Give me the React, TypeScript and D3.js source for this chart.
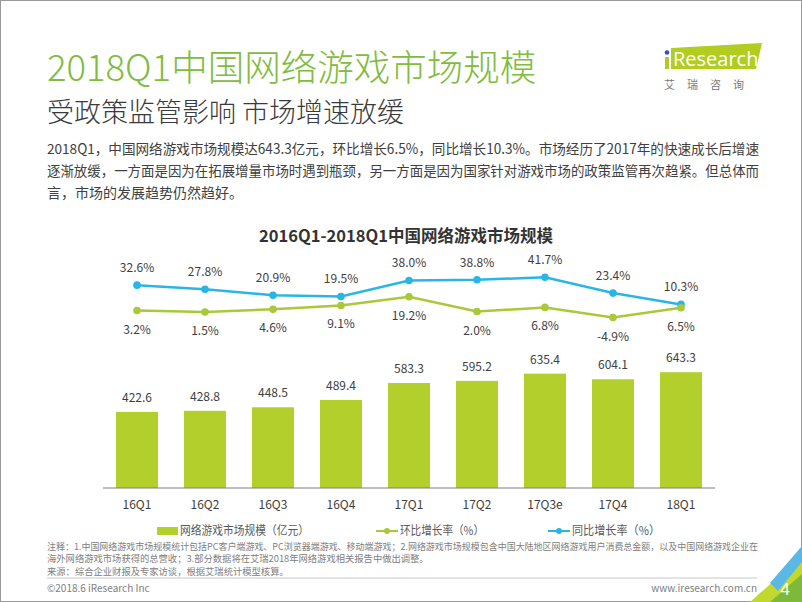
import React from 'react';
import * as d3 from 'd3';

const categories = ['16Q1', '16Q2', '16Q3', '16Q4', '17Q1', '17Q2', '17Q3e', '17Q4', '18Q1'];
const marketSize = [422.6, 428.8, 448.5, 489.4, 583.3, 595.2, 635.4, 604.1, 643.3];
const qoqGrowth = [3.2, 1.5, 4.6, 9.1, 19.2, 2.0, 6.8, -4.9, 6.5];
const yoyGrowth = [32.6, 27.8, 20.9, 19.5, 38.0, 38.8, 41.7, 23.4, 10.3];
const legendLabels = ['网络游戏市场规模（亿元）', '环比增长率（%）', '同比增长率（%）'];

const pageTitle = '2018Q1中国网络游戏市场规模';
const pageSubtitle = '受政策监管影响 市场增速放缓';
const paragraph = [
  '2018Q1，中国网络游戏市场规模达643.3亿元，环比增长6.5%，同比增长10.3%。市场经历了2017年的快速成长后增速',
  '逐渐放缓，一方面是因为在拓展增量市场时遇到瓶颈，另一方面是因为国家针对游戏市场的政策监管再次趋紧。但总体而',
  '言，市场的发展趋势仍然趋好。',
];
const chartTitle = '2016Q1-2018Q1中国网络游戏市场规模';
const notes = [
  '注释：1.中国网络游戏市场规模统计包括PC客户端游戏、PC浏览器端游戏、移动端游戏；2.网络游戏市场规模包含中国大陆地区网络游戏用户消费总金额，以及中国网络游戏企业在',
  '海外网络游戏市场获得的总营收；3.部分数据将在艾瑞2018年网络游戏相关报告中做出调整。',
  '来源：综合企业财报及专家访谈，根据艾瑞统计模型核算。',
];

const CJK = "'Noto Sans CJK SC', 'Noto Sans', sans-serif";
const BAR = '#b3cf2c';
const GREEN_LINE = '#a9c83a';
const BLUE_LINE = '#29b6e6';
const TITLE_GREEN = '#80bc3e';

export default function App() {
  const x = d3.scalePoint<string>().domain(categories).range([103, 715]).padding(0.5);
  const yBar = d3.scaleLinear().domain([0, 700]).range([488, 362]);
  const yLine = d3.scaleLinear().domain([-10, 50]).range([321.94, 270.1]);
  const barW = 42;

  const lineGen = (vals: number[]) =>
    d3
      .line<number>()
      .x((_, i) => x(categories[i]) as number)
      .y((v) => yLine(v))(vals) as string;

  return (
    <svg
      width={802}
      height={602}
      style={{ position: 'absolute', left: 0, top: 0, background: '#fff' }}
      fontFamily={CJK}
    >
      <rect x={0} y={0} width={802} height={602} fill="#fff" />
      <rect x={0.5} y={0.5} width={801} height={601} fill="none" stroke="#9a9a9a" strokeWidth={1} />

      {/* Header */}
      <text x={47} y={81} fontSize={36.5} fontWeight={300} fill={TITLE_GREEN}>
        {pageTitle}
      </text>
      <text x={47} y={122} fontSize={27} fontWeight={300} fill="#3a3a3a">
        {pageSubtitle}
      </text>

      {/* Logo */}
      <g>
        <polygon points="671,48 762,43 756,69 671,69" fill="#b2cc1f" />
        <rect x={665} y={57} width={4} height={12} fill="#b2cc1f" />
        <circle cx={667} cy={52.5} r={2.3} fill="#2a5aa8" />
        <text x={673} y={66} fontSize={20} fill="#fff" fontFamily="'Open Sans', 'Noto Sans', sans-serif">
          Research
        </text>
        <text x={664} y={89} fontSize={11} fill="#7a7a7a" letterSpacing={12}>
          艾瑞咨询
        </text>
      </g>

      {/* Paragraph */}
      {paragraph.map((t, i) => (
        <text
          key={i}
          x={47}
          y={154 + i * 22}
          fontSize={14}
          fill="#404040"
          {...(i < 2 ? { textLength: 712, lengthAdjust: 'spacingAndGlyphs' } : {})}
        >
          {t}
        </text>
      ))}

      {/* Chart title */}
      <text x={406} y={242} fontSize={16.5} fontWeight={700} fill="#333" textAnchor="middle">
        {chartTitle}
      </text>

      {/* Bars */}
      {marketSize.map((v, i) => {
        const cx = x(categories[i]) as number;
        return (
          <g key={categories[i]}>
            <rect x={cx - barW / 2} y={yBar(v)} width={barW} height={yBar(0) - yBar(v)} fill={BAR} />
            <text x={cx} y={yBar(v) - 10} fontSize={12} fill="#404040" textAnchor="middle">
              {v.toFixed(1)}
            </text>
          </g>
        );
      })}

      {/* Axis */}
      <line x1={103} x2={715} y1={yBar(0)} y2={yBar(0)} stroke="#7f7f7f" strokeWidth={1} />
      {categories.map((c) => (
        <text key={c} x={x(c) as number} y={509} fontSize={12} fill="#404040" textAnchor="middle">
          {c}
        </text>
      ))}

      {/* Lines */}
      <path d={lineGen(yoyGrowth)} fill="none" stroke={BLUE_LINE} strokeWidth={2.5} />
      <path d={lineGen(qoqGrowth)} fill="none" stroke={GREEN_LINE} strokeWidth={2.5} />
      {yoyGrowth.map((v, i) => (
        <g key={'y' + i}>
          <circle cx={x(categories[i]) as number} cy={yLine(v)} r={3.8} fill={BLUE_LINE} />
          <text x={x(categories[i]) as number} y={yLine(v) - 13} fontSize={12} fill="#404040" textAnchor="middle">
            {v.toFixed(1) + '%'}
          </text>
        </g>
      ))}
      {qoqGrowth.map((v, i) => (
        <g key={'q' + i}>
          <circle cx={x(categories[i]) as number} cy={yLine(v)} r={3.8} fill={GREEN_LINE} />
          <text x={x(categories[i]) as number} y={yLine(v) + 23} fontSize={12} fill="#404040" textAnchor="middle">
            {v.toFixed(1) + '%'}
          </text>
        </g>
      ))}

      {/* Legend */}
      <rect x={157} y={527} width={21} height={8} fill={BAR} />
      <text x={180} y={535} fontSize={12} fill="#595959" textLength={129} lengthAdjust="spacingAndGlyphs">
        {legendLabels[0]}
      </text>
      <line x1={376} x2={398} y1={531} y2={531} stroke={GREEN_LINE} strokeWidth={2} />
      <circle cx={387} cy={531} r={3} fill={GREEN_LINE} />
      <text x={400} y={535} fontSize={12} fill="#595959" textLength={84} lengthAdjust="spacingAndGlyphs">
        {legendLabels[1]}
      </text>
      <line x1={548} x2={570} y1={531} y2={531} stroke={BLUE_LINE} strokeWidth={2} />
      <circle cx={559} cy={531} r={3} fill={BLUE_LINE} />
      <text x={572} y={535} fontSize={12} fill="#595959" textLength={88} lengthAdjust="spacingAndGlyphs">
        {legendLabels[2]}
      </text>

      {/* Notes */}
      {notes.map((t, i) => (
        <text
          key={'n' + i}
          x={47}
          y={549.5 + i * 12.5}
          fontSize={9.3}
          fill="#808080"
          {...(i === 0 ? { textLength: 711, lengthAdjust: 'spacingAndGlyphs' } : {})}
        >
          {t}
        </text>
      ))}

      {/* Footer */}
      <line x1={47} x2={757} y1={578} y2={578} stroke="#c8c8c8" strokeWidth={1} />
      <text x={47} y={592} fontSize={10} fill="#808080">
        ©2018.6 iResearch Inc
      </text>
      <text x={757} y={592} fontSize={10} fill="#808080" textAnchor="end">
        www.iresearch.com.cn
      </text>

      {/* Corner decoration */}
      <polygon points="750,602 802,556 802,602" fill="#c3d82f" />
      <polygon points="770,602 802,574 802,602" fill="#7dba3c" />
      <polygon points="770,583 802,546 802,562 778,591" fill="#5ab8e6" />
      <text x={785} y={595} fontSize={16} fill="#fff" textAnchor="middle" fontFamily="'Noto Sans', sans-serif">
        4
      </text>
    </svg>
  );
}
